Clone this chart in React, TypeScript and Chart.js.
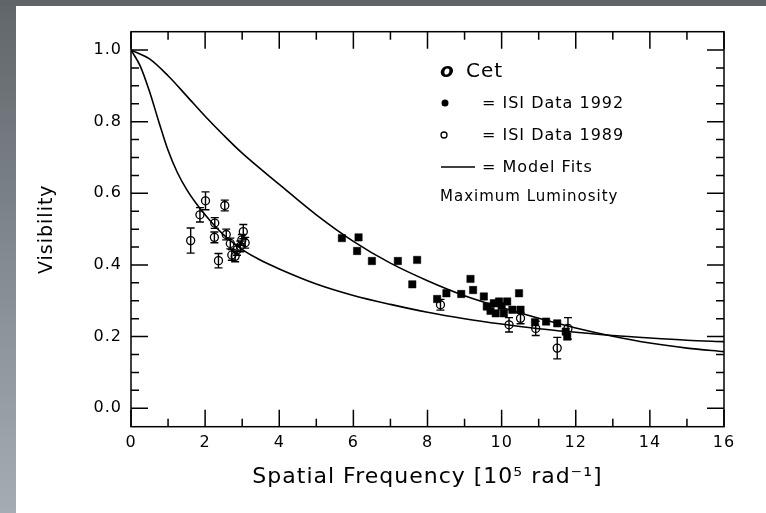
import React, { useEffect, useRef } from 'react';
import { Chart, registerables } from 'chart.js';

Chart.register(...registerables);

// ---------- data ----------
const upperFitX = [0, 0.5, 1, 1.5, 2, 2.5, 3, 4, 5, 6, 7, 8, 9, 10, 11, 12, 13, 14, 15, 16];
const upperFitY = [1.0, 0.975, 0.928, 0.872, 0.815, 0.762, 0.712, 0.625, 0.54, 0.466, 0.405, 0.356, 0.314, 0.281, 0.251, 0.224, 0.201, 0.182, 0.168, 0.158];

const lowerFitX = [0, 0.25, 0.5, 0.75, 1, 1.25, 1.5, 1.75, 2, 2.25, 2.5, 2.75, 3, 3.5, 4, 5, 6, 7, 8, 9, 10, 11, 12, 13, 14, 15, 16];
const lowerFitY = [1.0, 0.955, 0.884, 0.8, 0.72, 0.658, 0.611, 0.573, 0.54, 0.51, 0.484, 0.462, 0.443, 0.413, 0.389, 0.347, 0.315, 0.29, 0.268, 0.25, 0.235, 0.222, 0.212, 0.203, 0.196, 0.19, 0.186];

const isi1992X = [5.69, 6.14, 6.1, 6.5, 7.2, 7.72, 7.59, 8.26, 8.51, 8.91, 9.16, 9.23, 9.52, 9.6, 9.7, 9.79, 9.84, 9.93, 10.0, 10.06, 10.15, 10.29, 10.47, 10.51, 10.9, 11.2, 11.5, 11.73, 11.77];
const isi1992Y = [0.475, 0.477, 0.439, 0.411, 0.411, 0.414, 0.346, 0.305, 0.321, 0.319, 0.361, 0.33, 0.312, 0.284, 0.272, 0.293, 0.265, 0.298, 0.285, 0.265, 0.298, 0.275, 0.321, 0.275, 0.24, 0.242, 0.237, 0.214, 0.2];

const isi1989X = [1.61, 1.86, 2.01, 2.53, 2.26, 2.25, 2.36, 2.57, 2.68, 2.72, 2.81, 2.86, 2.95, 2.99, 3.03, 3.08, 8.35, 10.2, 10.51, 10.92, 11.5, 11.79];
const isi1989Y = [0.468, 0.54, 0.579, 0.566, 0.517, 0.477, 0.412, 0.485, 0.46, 0.428, 0.424, 0.442, 0.452, 0.47, 0.493, 0.462, 0.289, 0.233, 0.251, 0.223, 0.168, 0.223];
const isi1989Err = [0.035, 0.02, 0.025, 0.015, 0.015, 0.015, 0.02, 0.015, 0.015, 0.015, 0.015, 0.015, 0.015, 0.015, 0.02, 0.015, 0.015, 0.02, 0.015, 0.02, 0.03, 0.03];

const xTickValues = [0, 2, 4, 6, 8, 10, 12, 14, 16];
const yTickValues = [0, 0.2, 0.4, 0.6, 0.8, 1.0];
const xMinorTicks = [0, 1, 2, 3, 4, 5, 6, 7, 8, 9, 10, 11, 12, 13, 14, 15, 16];
const yMinorTicks = [0, 0.05, 0.1, 0.15, 0.2, 0.25, 0.3, 0.35, 0.4, 0.45, 0.5, 0.55, 0.6, 0.65, 0.7, 0.75, 0.8, 0.85, 0.9, 0.95, 1.0];

const xTitle = 'Spatial Frequency [10\u2075 rad\u207B\u00B9]';
const yTitle = 'Visibility';
const legendStar = 'Cet';
const legend1992 = '= ISI Data 1992';
const legend1989 = '= ISI Data 1989';
const legendModel = '= Model Fits';
const legendNote = 'Maximum Luminosity';

const W = 766;
const H = 513;
const FONT = '"DejaVu Sans", "Liberation Sans", sans-serif';

const toXY = (xs: number[], ys: number[]) => xs.map((x, i) => ({ x, y: ys[i] }));

const decorPlugin = {
  id: 'decor',
  beforeDraw(chart: any) {
    const ctx = chart.ctx as CanvasRenderingContext2D;
    ctx.save();
    ctx.fillStyle = '#5e6468';
    ctx.fillRect(0, 0, W, H);
    const g = ctx.createLinearGradient(0, 0, 0, H);
    g.addColorStop(0, '#60666a');
    g.addColorStop(1, '#a5adb4');
    ctx.fillStyle = g;
    ctx.fillRect(0, 6, 16, H - 6);
    ctx.fillStyle = '#ffffff';
    ctx.fillRect(16, 6, W - 16, H - 6);
    ctx.restore();
    (ctx as any).letterSpacing = '1px';
  },
  beforeDatasetsDraw(chart: any) {
    const ctx = chart.ctx as CanvasRenderingContext2D;
    const xs = chart.scales.x;
    const ys = chart.scales.y;
    ctx.save();
    ctx.strokeStyle = '#000';
    ctx.lineWidth = 1.4;
    isi1989X.forEach((xv, i) => {
      const px = xs.getPixelForValue(xv);
      const y1 = ys.getPixelForValue(isi1989Y[i] - isi1989Err[i]);
      const y2 = ys.getPixelForValue(isi1989Y[i] + isi1989Err[i]);
      ctx.beginPath();
      ctx.moveTo(px, y1);
      ctx.lineTo(px, y2);
      ctx.moveTo(px - 4, y1);
      ctx.lineTo(px + 4, y1);
      ctx.moveTo(px - 4, y2);
      ctx.lineTo(px + 4, y2);
      ctx.stroke();
    });
    ctx.restore();
  },
  afterDraw(chart: any) {
    const ctx = chart.ctx as CanvasRenderingContext2D;
    const { left, right, top, bottom } = chart.chartArea;
    const xs = chart.scales.x;
    const ys = chart.scales.y;
    ctx.save();
    ctx.strokeStyle = '#000';
    ctx.lineWidth = 1.5;
    ctx.strokeRect(left, top, right - left, bottom - top);
    ctx.beginPath();
    xMinorTicks.forEach((v) => {
      const px = xs.getPixelForValue(v);
      const len = xTickValues.includes(v) ? 17 : 8;
      ctx.moveTo(px, bottom);
      ctx.lineTo(px, bottom - len);
      ctx.moveTo(px, top);
      ctx.lineTo(px, top + len);
    });
    yMinorTicks.forEach((v) => {
      const py = ys.getPixelForValue(v);
      const major = yTickValues.some((t) => Math.abs(t - v) < 1e-9);
      const len = major ? 17 : 8;
      ctx.moveTo(left, py);
      ctx.lineTo(left + len, py);
      ctx.moveTo(right, py);
      ctx.lineTo(right - len, py);
    });
    ctx.stroke();

    // legend block
    ctx.fillStyle = '#000';
    ctx.textBaseline = 'middle';
    ctx.textAlign = 'left';
    ctx.font = `italic bold 20px ${FONT}`;
    ctx.fillText('o', 440, 72);
    ctx.font = `20px ${FONT}`;
    ctx.fillText(legendStar, 466, 72);

    ctx.font = `16px ${FONT}`;
    ctx.beginPath();
    ctx.arc(445, 103, 3.5, 0, Math.PI * 2);
    ctx.fill();
    ctx.fillText(legend1992, 482, 104);

    ctx.beginPath();
    ctx.lineWidth = 1.3;
    ctx.arc(444, 135, 3, 0, Math.PI * 2);
    ctx.stroke();
    ctx.fillText(legend1989, 482, 136);

    ctx.beginPath();
    ctx.lineWidth = 1.6;
    ctx.moveTo(441, 167);
    ctx.lineTo(475, 167);
    ctx.stroke();
    ctx.fillText(legendModel, 482, 168);

    ctx.font = `15px ${FONT}`;
    ctx.fillText(legendNote, 440, 197);
    ctx.restore();
  },
};

export default function App() {
  const ref = useRef<HTMLCanvasElement | null>(null);

  useEffect(() => {
    if (!ref.current) return;
    const chart = new Chart(ref.current, {
      type: 'scatter',
      data: {
        datasets: [
          {
            label: 'ISI Data 1989',
            data: toXY(isi1989X, isi1989Y),
            pointStyle: 'circle',
            pointRadius: 4,
            pointBorderWidth: 1.3,
            pointBorderColor: '#000',
            pointBackgroundColor: 'rgba(0,0,0,0)',
            showLine: false,
          },
          {
            label: 'ISI Data 1992',
            data: toXY(isi1992X, isi1992Y),
            pointStyle: 'rect',
            pointRadius: 5.2,
            pointBorderWidth: 0.5,
            pointBorderColor: '#000',
            pointBackgroundColor: '#000',
            showLine: false,
          },
          {
            label: 'Model fit A',
            data: toXY(upperFitX, upperFitY),
            showLine: true,
            borderColor: '#000',
            borderWidth: 1.6,
            pointRadius: 0,
            cubicInterpolationMode: 'monotone',
            fill: false,
          },
          {
            label: 'Model fit B',
            data: toXY(lowerFitX, lowerFitY),
            showLine: true,
            borderColor: '#000',
            borderWidth: 1.6,
            pointRadius: 0,
            cubicInterpolationMode: 'monotone',
            fill: false,
          },
        ],
      },
      options: {
        responsive: false,
        animation: false,
        events: [],
        layout: { padding: { left: 0, right: 42, top: 31.7, bottom: 0 } },
        plugins: { legend: { display: false }, tooltip: { enabled: false } },
        scales: {
          x: {
            type: 'linear',
            min: 0,
            max: 16,
            grid: { display: false, drawTicks: false },
            border: { display: false },
            afterBuildTicks: (s: any) => {
              s.ticks = xTickValues.map((value) => ({ value }));
            },
            afterFit: (s: any) => {
              s.height = 86.3;
            },
            ticks: {
              padding: 7,
              color: '#000',
              maxRotation: 0,
              autoSkip: false,
              font: { family: FONT, size: 16 },
              callback: (v: any) => String(v),
            },
            title: {
              display: true,
              text: xTitle,
              color: '#000',
              font: { family: FONT, size: 22 },
              padding: { top: 0, bottom: 23 },
            },
          },
          y: {
            type: 'linear',
            min: -0.0514,
            max: 1.051,
            grid: { display: false, drawTicks: false },
            border: { display: false },
            afterBuildTicks: (s: any) => {
              s.ticks = yTickValues.map((value) => ({ value }));
            },
            afterFit: (s: any) => {
              s.width = 131;
            },
            ticks: {
              padding: 9,
              color: '#000',
              autoSkip: false,
              font: { family: FONT, size: 16 },
              callback: (v: any) => Number(v).toFixed(1),
            },
            title: {
              display: true,
              text: yTitle,
              color: '#000',
              font: { family: FONT, size: 19 },
              padding: { top: 36, bottom: 0 },
            },
          },
        },
      },
      plugins: [decorPlugin],
    } as any);
    return () => chart.destroy();
  }, []);

  return (
    <div style={{ position: 'fixed', left: 0, top: 0, width: W, height: H }}>
      <canvas ref={ref} width={W} height={H} style={{ display: 'block' }} />
    </div>
  );
}
